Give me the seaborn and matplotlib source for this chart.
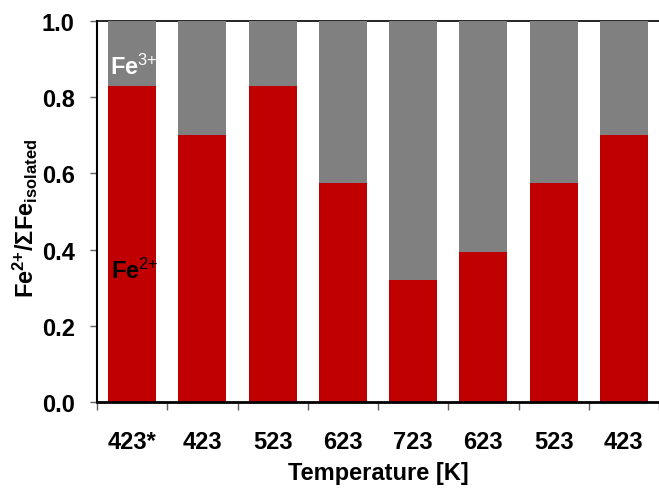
import matplotlib
matplotlib.use("Agg")
import matplotlib.pyplot as plt
import seaborn as sns
import pandas as pd
import numpy as np

# Temperature steps (heating then cooling) and Fe2+ fraction at each step
temperatures = ["423*", "423", "523", "623", "723", "623", "523", "423"]
fe2_fraction = [0.83, 0.70, 0.83, 0.575, 0.32, 0.395, 0.575, 0.70]
total = [1.0] * len(temperatures)
y_ticks = [0.0, 0.2, 0.4, 0.6, 0.8, 1.0]

RED = "#C00000"
GRAY = "#808080"

sns.set_theme(style="white")
plt.rcParams["font.family"] = ["Liberation Sans", "DejaVu Sans"]
plt.rcParams["mathtext.fontset"] = "custom"
plt.rcParams["mathtext.rm"] = "Liberation Sans"
plt.rcParams["mathtext.bf"] = "Liberation Sans:bold"
plt.rcParams["mathtext.it"] = "Liberation Sans:italic"
plt.rcParams["mathtext.sf"] = "Liberation Sans"
plt.rcParams["text.color"] = "black"
plt.rcParams["axes.labelcolor"] = "black"
plt.rcParams["xtick.color"] = "black"
plt.rcParams["ytick.color"] = "black"

df = pd.DataFrame({
    "step": list(range(len(temperatures))),
    "fe2": fe2_fraction,
    "total": total,
})

fig = plt.figure(figsize=(6.59, 4.89), dpi=100)
W, H = 659, 489
left_px, right_px, top_px, bottom_px = 97, 659, 22, 403
ax = fig.add_axes([left_px / W, 1 - bottom_px / H,
                   (right_px - left_px) / W, (bottom_px - top_px) / H])

bar_width = 0.685
sns.barplot(data=df, x="step", y="total", color=GRAY, saturation=1,
            width=bar_width, ax=ax, zorder=3, linewidth=0)
sns.barplot(data=df, x="step", y="fe2", color=RED, saturation=1,
            width=bar_width, ax=ax, zorder=3, linewidth=0)

slot_px = 71.6
ax.set_xlim(-0.5, (right_px - left_px) / slot_px - 0.5)
ax.set_ylim(0, 1.0)

FS = 17

# y axis
ax.set_yticks(y_ticks)
ax.set_yticklabels([f"{v:.1f}" for v in y_ticks], fontsize=FS,
                   fontweight="bold")
ax.tick_params(axis="y", direction="out", length=5, width=1, color="#606060",
               labelcolor="black", left=True, pad=11)

# x axis: tick marks between categories, labels centred under the bars
n = len(temperatures)
ax.set_xticks(np.arange(-0.5, n, 1.0))
ax.set_xticklabels([])
ax.set_xticks(np.arange(n), minor=True)
ax.set_xticklabels(temperatures, minor=True, fontsize=FS, fontweight="bold")
ax.tick_params(axis="x", which="major", direction="out", length=6, width=1,
               color="#606060", bottom=True)
ax.tick_params(axis="x", which="minor", length=0, pad=20, labelcolor="black")

ax.set_xlabel("Temperature [K]", fontsize=FS, fontweight="bold", labelpad=6,
              color="black")
ax.set_ylabel(r"$\mathbf{Fe^{2{+}}/\Sigma Fe_{isolated}}$", fontsize=FS,
              color="black")
ax.yaxis.set_label_coords(-0.102, 0.485)

for side in ["left", "bottom", "top"]:
    ax.spines[side].set_visible(True)
    ax.spines[side].set_color("black")
    ax.spines[side].set_zorder(2)
ax.spines["left"].set_linewidth(1.5)
ax.spines["bottom"].set_linewidth(2)
ax.spines["bottom"].set_zorder(4)
ax.spines["top"].set_linewidth(1.2)
ax.spines["right"].set_visible(False)

ax.text(-0.32, 0.88, r"Fe$^{3{+}}$", color="white", fontsize=FS,
        fontweight="bold", va="center", ha="left", zorder=5)
ax.text(-0.30, 0.345, r"Fe$^{2{+}}$", color="black", fontsize=FS,
        fontweight="bold", va="center", ha="left", zorder=5)

fig.savefig("out.png", dpi=100)
